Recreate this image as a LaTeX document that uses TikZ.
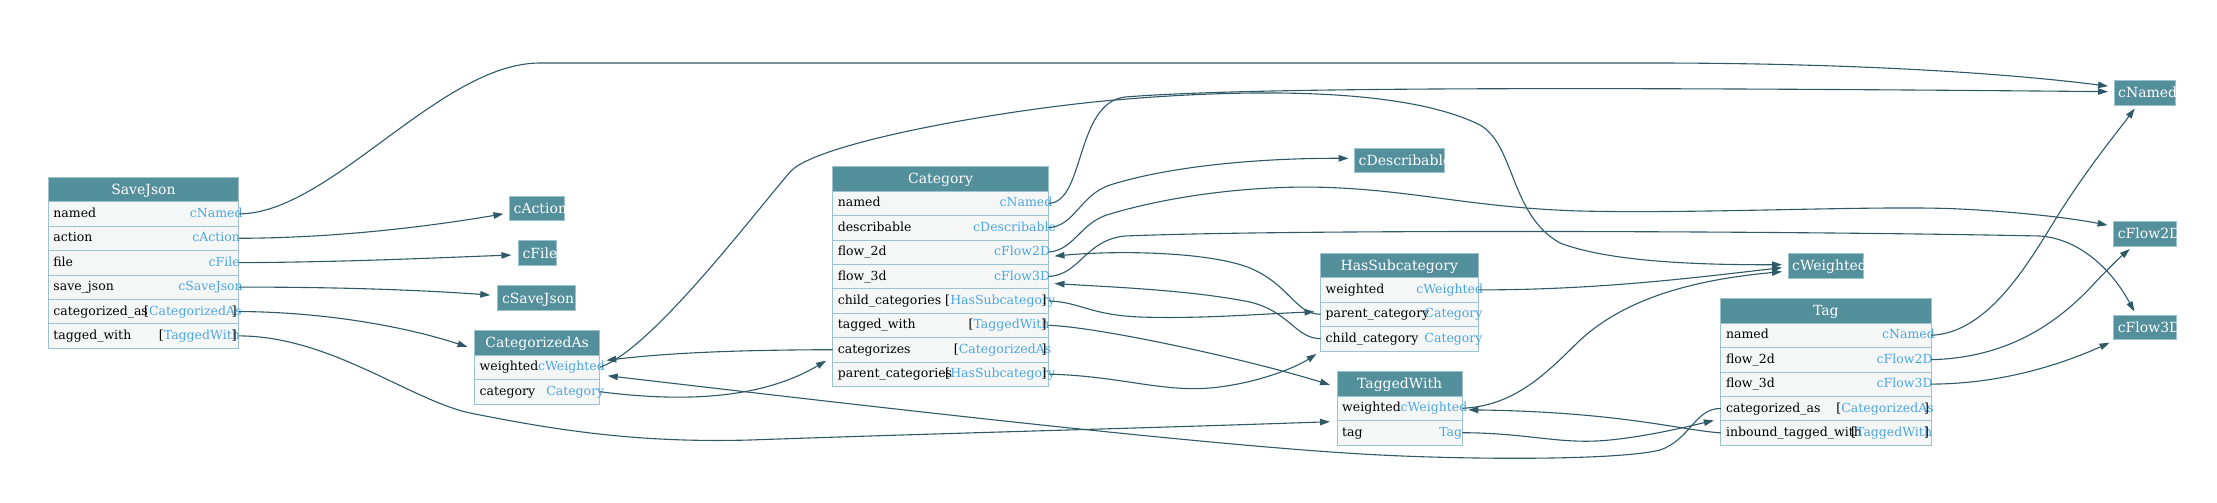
\documentclass[tikz,border=0pt]{standalone}
\usepackage{fontspec}
\setmainfont{DejaVu Serif}
\newfontfamily\estfont{Liberation Serif}
\usetikzlibrary{positioning,arrows.meta}

\definecolor{headfill}{HTML}{548F9C}
\definecolor{rowfill}{HTML}{F5F7F7}
\definecolor{rowline}{HTML}{9CC2CE}
\definecolor{typeblue}{HTML}{4CA5E0}
\definecolor{edgecol}{HTML}{2F5966}

\newcommand\estsize{\estfont\fontsize{14pt}{16pt}\selectfont}

% table header: id, x, y, width, title
\newcommand\tablehead[5]{%
  \def\rowwidth{#4pt}%
  \node[headbox, minimum width=#4pt] (#1) at (#2,#3) {};
  \node[headtext] (#1-title) at ([yshift=-4.6pt]#1.center) {#5};
}
% field row: table, row id, row above, field, type
\newcommand\fieldrow[5]{%
  \node[rowbox, below=0pt of #3] (#1-#2) {};
  \node[fieldtext] (#1-#2-f) at ([xshift=5pt,yshift=-3.6pt]#1-#2.west) {#4};
  \node[estbox] (#1-#2-e) at ([xshift=-2pt,yshift=-3.6pt]#1-#2.east) {\phantom{#5}};
  \node[typetext] (#1-#2-t) at (#1-#2-e.base west) {#5};
}
% list row: same, type in brackets
\newcommand\listrow[5]{%
  \node[rowbox, below=0pt of #3] (#1-#2) {};
  \node[fieldtext] (#1-#2-f) at ([xshift=5pt,yshift=-3.6pt]#1-#2.west) {#4};
  \node[estbox] (#1-#2-e) at ([xshift=-2pt,yshift=-3.6pt]#1-#2.east) {\phantom{[#5]}};
  \node[fieldtext] (#1-#2-l) at (#1-#2-e.base west) {[};
  \node[estbox, anchor=base west] (#1-#2-o) at (#1-#2-e.base west) {\phantom{[}};
  \node[typetext] (#1-#2-t) at (#1-#2-o.base east) {#5};
  \node[estbox] (#1-#2-c) at ([xshift=-2pt,yshift=-3.6pt]#1-#2.east) {\phantom{]}};
  \node[fieldtext] (#1-#2-r) at (#1-#2-c.base west) {]};
}
% constant box: id, x, y, width, text
\newcommand\constnode[5]{%
  \node[constbox, minimum width=#4pt] (#1) at (#2,#3) {};
  \begin{scope}
    \clip (#1.south west) rectangle (#1.north east);
    \node[consttext] (#1-text) at ([xshift=4pt,yshift=-5pt]#1.west) {#5};
  \end{scope}
}

\begin{document}
\begin{tikzpicture}[x=1pt,y=-1pt,
  headbox/.style={anchor=north west, draw=rowline, fill=headfill, line width=0.8pt,
    minimum height=24.4pt, inner sep=0pt, outer sep=0pt},
  headtext/.style={anchor=base, inner sep=0pt, text=white, font=\fontsize{14pt}{16pt}\selectfont},
  rowbox/.style={draw=rowline, fill=rowfill, line width=0.8pt, minimum width=\rowwidth,
    minimum height=24.4pt, inner sep=0pt, outer sep=0pt},
  fieldtext/.style={anchor=base west, inner sep=0pt, font=\fontsize{12.5pt}{14pt}\selectfont},
  typetext/.style={fieldtext, text=typeblue},
  estbox/.style={anchor=base east, inner sep=0pt, font=\estsize},
  constbox/.style={anchor=north west, draw=rowline, fill=headfill, line width=0.8pt,
    minimum height=24.7pt, inner sep=0pt, outer sep=0pt},
  consttext/.style={anchor=base west, inner sep=0pt, text=white, font=\fontsize{14pt}{16pt}\selectfont},
  link/.style={draw=edgecol, line width=1.1pt, -{Triangle[length=10pt,width=6.5pt]}}]
\useasboundingbox (0,0) rectangle (2217,503);

% tables
\tablehead{sj}{48.2}{177.3}{190.6}{SaveJson}
\fieldrow{sj}{named}{sj}{named}{cNamed}
\fieldrow{sj}{action}{sj-named}{action}{cAction}
\fieldrow{sj}{file}{sj-action}{file}{cFile}
\fieldrow{sj}{save}{sj-file}{save\_json}{cSaveJson}
\listrow{sj}{catas}{sj-save}{categorized\_as}{CategorizedAs}
\listrow{sj}{tagged}{sj-catas}{tagged\_with}{TaggedWith}

\tablehead{ca}{474.5}{330.7}{125.3}{CategorizedAs}
\fieldrow{ca}{weighted}{ca}{weighted}{cWeighted}
\fieldrow{ca}{category}{ca-weighted}{category}{Category}

\tablehead{cat}{832.6}{166.7}{215.9}{Category}
\fieldrow{cat}{named}{cat}{named}{cNamed}
\fieldrow{cat}{descr}{cat-named}{describable}{cDescribable}
\fieldrow{cat}{flowtwo}{cat-descr}{flow\_2d}{cFlow2D}
\fieldrow{cat}{flowthree}{cat-flowtwo}{flow\_3d}{cFlow3D}
\listrow{cat}{child}{cat-flowthree}{child\_categories}{HasSubcategory}
\listrow{cat}{tagged}{cat-child}{tagged\_with}{TaggedWith}
\listrow{cat}{categorizes}{cat-tagged}{categorizes}{CategorizedAs}
\listrow{cat}{parents}{cat-categorizes}{parent\_categories}{HasSubcategory}

\tablehead{hs}{1320.5}{253.3}{157.5}{HasSubcategory}
\fieldrow{hs}{weighted}{hs}{weighted}{cWeighted}
\fieldrow{hs}{parent}{hs-weighted}{parent\_category}{Category}
\fieldrow{hs}{child}{hs-parent}{child\_category}{Category}

\tablehead{tw}{1337}{371.7}{125.3}{TaggedWith}
\fieldrow{tw}{weighted}{tw}{weighted}{cWeighted}
\fieldrow{tw}{tag}{tw-weighted}{tag}{Tag}

\tablehead{tag}{1720.8}{298.7}{210.2}{Tag}
\fieldrow{tag}{named}{tag}{named}{cNamed}
\fieldrow{tag}{flowtwo}{tag-named}{flow\_2d}{cFlow2D}
\fieldrow{tag}{flowthree}{tag-flowtwo}{flow\_3d}{cFlow3D}
\listrow{tag}{catas}{tag-flowthree}{categorized\_as}{CategorizedAs}
\listrow{tag}{inbound}{tag-catas}{inbound\_tagged\_with}{TaggedWith}

% constants
\constnode{cact}{509.5}{196}{55.1}{cAction}
\constnode{cfile}{518.4}{240.7}{37.6}{cFile}
\constnode{csave}{497.8}{285.7}{77.9}{cSaveJson}
\constnode{cdescr}{1354.5}{148}{89.5}{cDescribable}
\constnode{cweight}{1788}{253.3}{75}{cWeighted}
\constnode{cnamed}{2114}{80.3}{61.5}{cNamed}
\constnode{cflowtwo}{2113.6}{221.3}{62.4}{cFlow2D}
\constnode{cflowthree}{2113.6}{315}{62.4}{cFlow3D}

% SaveJson
\draw[link] (sj-named.east) .. controls (330,214) and (440,63) .. (540,63) -- (1650,63)
  .. controls (1850,63) and (2005,73) .. ([xshift=-6pt,yshift=6.5pt]cnamed.west);
\draw[link] (sj-action.east) .. controls (330,238) and (420,228) .. ([xshift=-6pt,yshift=-5.5pt]cact.west);
\draw[link] (sj-file.east) .. controls (350,262) and (430,258) .. ([xshift=-7pt,yshift=-2pt]cfile.west);
\draw[link] (sj-save.east) .. controls (340,287) and (420,290) .. ([xshift=-7.5pt,yshift=3pt]csave.west);
\draw[link] (sj-catas.east) .. controls (320,312) and (400,325) .. ([xshift=-7pt,yshift=-4pt]ca.west);
\draw[link] (sj-tagged.east) .. controls (330,336) and (410,400) .. (470,413)
  .. controls (560,431) and (640,443) .. (750,440)
  .. controls (950,433) and (1150,428) .. ([xshift=-7pt,yshift=11pt]tw-tag.west);

% CategorizedAs
\draw[link] (ca-weighted.east) .. controls (650,350) and (745,225) .. (790,172)
  .. controls (815,143) and (1000,110) .. (1115,100)
  .. controls (1230,90) and (1400,85) .. (1480,125)
  .. controls (1515,145) and (1510,215) .. (1560,243)
  .. controls (1610,262) and (1700,265) .. ([xshift=-6pt,yshift=1pt]cweight.west);
\draw[link] (ca-category.east) .. controls (680,402) and (760,400) .. ([xshift=-6.5pt,yshift=-11pt]cat-categorizes.west);

% Category
\draw[link] (cat-named.east) .. controls (1085,203) and (1075,103) .. (1125,97)
  .. controls (1250,87) and (1600,87) .. ([xshift=-6pt,yshift=1pt]cnamed.west);
\draw[link] (cat-descr.east) .. controls (1075,226) and (1080,195) .. (1110,185)
  .. controls (1180,163) and (1280,158) .. ([xshift=-6pt,yshift=2pt]cdescr.west);
\draw[link] (cat-flowtwo.east) .. controls (1075,250) and (1080,222) .. (1110,214)
  .. controls (1180,193) and (1270,184) .. (1340,188)
  .. controls (1420,192) and (1480,208) .. (1580,211)
  .. controls (1700,214) and (1880,205) .. (1960,209)
  .. controls (2020,212) and (2070,218) .. ([xshift=-6pt,yshift=8.5pt]cflowtwo.west);
\draw[link] (cat-flowthree.east) .. controls (1080,275) and (1085,240) .. (1125,236)
  .. controls (1300,229) and (1800,231) .. (2040,236)
  .. controls (2080,239) and (2112,270) .. ([xshift=-10.5pt,yshift=3.5pt]cflowthree.north);
\draw[link] (cat-child.east) .. controls (1080,302) and (1090,315) .. (1140,317)
  .. controls (1200,319) and (1260,314) .. ([xshift=-6pt,yshift=2.5pt]hs-parent.west);
\draw[link] (cat-tagged.east) .. controls (1100,327) and (1250,360) .. ([xshift=-7pt,yshift=-1pt]tw.west);
\draw[link] (cat-categorizes.west) .. controls (720,350) and (660,354) .. ([xshift=6.5pt,yshift=7pt]ca-weighted.east);
\draw[link] (cat-parents.east) .. controls (1120,376) and (1160,392) .. (1210,388)
  .. controls (1255,384) and (1295,368) .. ([xshift=-4pt,yshift=-3pt]hs-child.south west);

% HasSubcategory
\draw[link] (hs-weighted.east) .. controls (1600,290) and (1700,277) .. ([xshift=-6pt,yshift=-2pt]cweight.west);
\draw[link] (hs-parent.west) .. controls (1295,314) and (1290,285) .. (1250,268)
  .. controls (1210,252) and (1120,250) .. ([xshift=6pt,yshift=-4pt]cat-flowtwo.east);
\draw[link] (hs-child.west) .. controls (1295,338) and (1290,312) .. (1250,302)
  .. controls (1190,290) and (1110,287) .. ([xshift=6pt,yshift=-7pt]cat-flowthree.east);

% TaggedWith
\draw[link] (tw-weighted.east) .. controls (1510,406) and (1540,380) .. (1575,345)
  .. controls (1620,300) and (1690,280) .. ([xshift=-6pt,yshift=-6pt]cweight.west);
\draw[link] (tw-tag.east) .. controls (1530,433) and (1560,445) .. (1610,440)
  .. controls (1650,436) and (1690,426) .. ([xshift=-7pt,yshift=12.5pt]tag-inbound.west);

% Tag
\draw[link] (tag-named.east) .. controls (1990,333) and (2030,260) .. (2060,212)
  .. controls (2090,165) and (2115,135) .. ([xshift=-10pt,yshift=-3.5pt]cnamed.south);
\draw[link] (tag-flowtwo.east) .. controls (2000,358) and (2050,330) .. (2090,288)
  .. controls (2105,272) and (2118,259) .. ([xshift=-15pt,yshift=-3pt]cflowtwo.south);
\draw[link] (tag-flowthree.east) .. controls (2000,384) and (2060,365) .. ([xshift=-4pt,yshift=-3pt]cflowthree.south west);
\draw[link] (tag-catas.west) .. controls (1695,408) and (1690,440) .. (1660,450)
  .. controls (1620,460) and (1480,460) .. (1380,455)
  .. controls (1200,446) and (800,398) .. ([xshift=8pt,yshift=-8.5pt]ca-weighted.east);
\draw[link] (tag-inbound.west) .. controls (1680,430) and (1620,412) .. ([xshift=6pt,yshift=-1.5pt]tw-weighted.east);
\end{tikzpicture}
\end{document}
